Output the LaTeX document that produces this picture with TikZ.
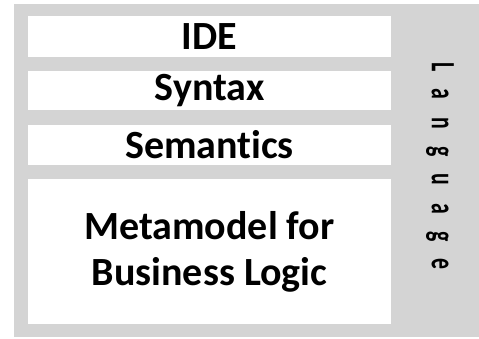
\documentclass[tikz,border=0pt]{standalone}
\usepackage{fontspec}
\setmainfont{Carlito}[Ligatures={NoCommon}]
\newfontfamily\langfont{Carlito}[LetterSpace=80, BoldFont={Carlito Bold}]
\usepackage{tikz}
\definecolor{panelgray}{RGB}{212,212,212}

\begin{document}
\begin{tikzpicture}[x=1pt, y=-1pt,
    layerbox/.style={fill=white, minimum width=363pt, inner sep=0pt, align=center,
        font=\bfseries\fontsize{40}{46}\selectfont}]

    \useasboundingbox (0,0) rectangle (479,338);
    \node[fill=panelgray, minimum width=465pt, minimum height=333pt, inner sep=0pt] (panel) at (246.5,170.5) {};

    \node[layerbox, minimum height=41pt] (ide) at (209.5,36.5) {IDE};
    \node[layerbox, minimum height=39pt] (syntax) at (209.5,90.5) {Syntax};
    \node[layerbox, minimum height=40pt] (semantics) at (209.5,145) {Semantics};
    \node[layerbox, minimum height=145pt] (meta) at (209.5,251.5) {Metamodel for\\Business Logic};

    \node[rotate=-90, inner sep=0pt] (lang) at (440,166)
        {\scalebox{0.64}[1]{\langfont\bfseries\fontsize{34}{34}\selectfont Language}};

\end{tikzpicture}
\end{document}
